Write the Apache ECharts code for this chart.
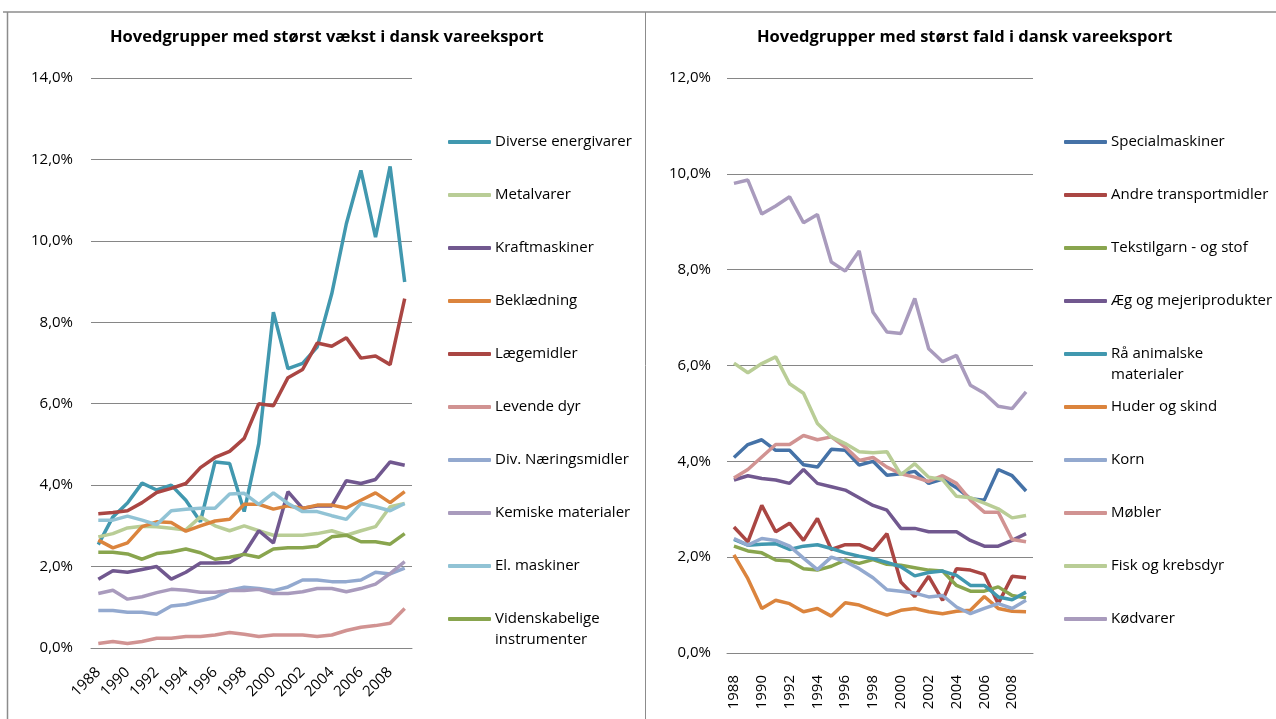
<!DOCTYPE html>
<html>
<head>
<meta charset="utf-8">
<script src="https://cdn.jsdelivr.net/npm/echarts@6/dist/echarts.min.js"></script>
<style>
  html, body { margin: 0; padding: 0; background: #fff; }
  #chart { width: 1276px; height: 719px; }
</style>
</head>
<body>
<div id="chart"></div>
<script>
// years on the x axis (both panels)
const years = ['1988', '1989', '1990', '1991', '1992', '1993', '1994', '1995', '1996', '1997', '1998',
  '1999', '2000', '2001', '2002', '2003', '2004', '2005', '2006', '2007', '2008', '2009'];

// left panel: share of export, percent
const diverseEnergivarer = [2.54, 3.22, 3.56, 4.05, 3.88, 4.00, 3.63, 3.10, 4.57, 4.53, 3.35, 5.02, 8.25, 6.86, 6.99, 7.39, 8.70, 10.42, 11.73, 10.09, 11.83, 8.99];
const metalvarer = [2.73, 2.81, 2.95, 2.99, 2.98, 2.94, 2.90, 3.22, 3.00, 2.88, 3.00, 2.88, 2.77, 2.77, 2.77, 2.81, 2.88, 2.77, 2.88, 2.98, 3.47, 3.55];
const kraftmaskiner = [1.69, 1.90, 1.86, 1.93, 2.00, 1.69, 1.86, 2.09, 2.09, 2.10, 2.32, 2.88, 2.58, 3.84, 3.43, 3.49, 3.49, 4.11, 4.04, 4.14, 4.57, 4.49];
const beklaedning = [2.65, 2.46, 2.58, 2.98, 3.10, 3.08, 2.87, 3.00, 3.12, 3.16, 3.53, 3.53, 3.41, 3.49, 3.43, 3.51, 3.51, 3.44, 3.63, 3.81, 3.57, 3.84];
const laegemidler = [3.30, 3.33, 3.37, 3.57, 3.82, 3.92, 4.04, 4.43, 4.68, 4.83, 5.15, 6.00, 5.95, 6.64, 6.84, 7.49, 7.41, 7.62, 7.12, 7.17, 6.96, 8.58];
const levendeDyr = [0.11, 0.16, 0.11, 0.16, 0.24, 0.24, 0.28, 0.28, 0.32, 0.38, 0.34, 0.28, 0.32, 0.32, 0.32, 0.28, 0.32, 0.43, 0.51, 0.55, 0.61, 0.97];
const divNaeringsmidler = [0.92, 0.92, 0.88, 0.88, 0.83, 1.03, 1.07, 1.16, 1.24, 1.42, 1.49, 1.46, 1.41, 1.50, 1.67, 1.67, 1.63, 1.63, 1.67, 1.86, 1.82, 1.96];
const kemiskeMaterialer = [1.34, 1.42, 1.20, 1.26, 1.36, 1.44, 1.42, 1.37, 1.37, 1.41, 1.41, 1.44, 1.34, 1.34, 1.38, 1.46, 1.46, 1.38, 1.46, 1.57, 1.83, 2.12];
const elMaskiner = [3.14, 3.14, 3.24, 3.14, 3.03, 3.37, 3.41, 3.43, 3.43, 3.78, 3.80, 3.53, 3.81, 3.55, 3.35, 3.35, 3.25, 3.16, 3.55, 3.47, 3.37, 3.55];
const videnskabeligeInstr = [2.35, 2.35, 2.31, 2.18, 2.32, 2.36, 2.43, 2.34, 2.18, 2.23, 2.30, 2.23, 2.43, 2.46, 2.46, 2.50, 2.73, 2.77, 2.61, 2.61, 2.55, 2.81];

// right panel: share of export, percent
const specialmaskiner = [4.08, 4.35, 4.45, 4.23, 4.23, 3.93, 3.88, 4.25, 4.23, 3.92, 4.00, 3.71, 3.74, 3.79, 3.54, 3.63, 3.45, 3.22, 3.19, 3.83, 3.70, 3.38];
const andreTransportmidler = [2.63, 2.32, 3.08, 2.53, 2.71, 2.35, 2.81, 2.16, 2.26, 2.26, 2.14, 2.49, 1.48, 1.18, 1.60, 1.10, 1.76, 1.73, 1.64, 1.03, 1.60, 1.57];
const tekstilgarn = [2.23, 2.13, 2.09, 1.94, 1.92, 1.76, 1.73, 1.81, 1.94, 1.87, 1.95, 1.85, 1.83, 1.78, 1.73, 1.71, 1.41, 1.29, 1.29, 1.38, 1.20, 1.15];
const aegMejeri = [3.61, 3.70, 3.64, 3.61, 3.54, 3.83, 3.54, 3.47, 3.40, 3.24, 3.08, 2.98, 2.60, 2.60, 2.53, 2.53, 2.53, 2.35, 2.23, 2.23, 2.35, 2.49];
const raaAnimalske = [2.37, 2.25, 2.27, 2.28, 2.16, 2.23, 2.26, 2.18, 2.09, 2.02, 1.97, 1.89, 1.80, 1.61, 1.68, 1.71, 1.62, 1.41, 1.41, 1.17, 1.11, 1.27];
const huderSkind = [2.05, 1.55, 0.93, 1.10, 1.03, 0.86, 0.93, 0.77, 1.05, 1.00, 0.89, 0.79, 0.89, 0.93, 0.86, 0.82, 0.87, 0.89, 1.18, 0.93, 0.87, 0.86];
const korn = [2.39, 2.25, 2.39, 2.35, 2.23, 1.98, 1.74, 2.00, 1.91, 1.76, 1.57, 1.32, 1.29, 1.25, 1.17, 1.20, 0.96, 0.82, 0.93, 1.03, 0.93, 1.10];
const moebler = [3.65, 3.83, 4.09, 4.35, 4.35, 4.54, 4.45, 4.51, 4.30, 4.02, 4.08, 3.88, 3.74, 3.67, 3.58, 3.70, 3.54, 3.19, 2.94, 2.94, 2.37, 2.32];
const fiskKrebsdyr = [6.05, 5.85, 6.04, 6.18, 5.62, 5.42, 4.79, 4.51, 4.37, 4.20, 4.18, 4.20, 3.72, 3.95, 3.67, 3.62, 3.27, 3.24, 3.13, 3.01, 2.82, 2.87];
const koedvarer = [9.80, 9.87, 9.16, 9.33, 9.52, 8.98, 9.15, 8.16, 7.97, 8.39, 7.11, 6.70, 6.67, 7.40, 6.35, 6.08, 6.21, 5.59, 5.42, 5.15, 5.10, 5.45];

const growth = [
  ['Diverse energivarer', diverseEnergivarer, '#4198AF'],
  ['Metalvarer', metalvarer, '#B9CD96'],
  ['Kraftmaskiner', kraftmaskiner, '#71588F'],
  ['Beklædning', beklaedning, '#DB843D'],
  ['Lægemidler', laegemidler, '#AA4643'],
  ['Levende dyr', levendeDyr, '#D19392'],
  ['Div. Næringsmidler', divNaeringsmidler, '#93A9CF'],
  ['Kemiske materialer', kemiskeMaterialer, '#A99BBD'],
  ['El. maskiner', elMaskiner, '#91C3D5'],
  ['Videnskabelige\ninstrumenter', videnskabeligeInstr, '#89A54E']
];
const decline = [
  ['Specialmaskiner', specialmaskiner, '#4572A7'],
  ['Andre transportmidler', andreTransportmidler, '#AA4643'],
  ['Tekstilgarn - og stof', tekstilgarn, '#89A54E'],
  ['Æg og mejeriprodukter', aegMejeri, '#71588F'],
  ['Rå animalske\nmaterialer', raaAnimalske, '#4198AF'],
  ['Huder og skind', huderSkind, '#DB843D'],
  ['Korn', korn, '#93A9CF'],
  ['Møbler', moebler, '#D19392'],
  ['Fisk og krebsdyr', fiskKrebsdyr, '#B9CD96'],
  ['Kødvarer', koedvarer, '#A99BBD']
];

const FONT = 'Open Sans';
const gridColor = '#868686';
const LH = 21;

function pct(v) {
  return v.toFixed(1).replace('.', ',') + '%';
}

function xAxis(gridIndex, rotate, margin) {
  return {
    type: 'category', gridIndex: gridIndex, data: years, boundaryGap: true,
    axisTick: { show: false },
    axisLine: { lineStyle: { color: gridColor, width: 1 } },
    axisLabel: { interval: 1, rotate: rotate, color: '#000', fontFamily: FONT, fontSize: 15, margin: margin }
  };
}

function yAxis(gridIndex, max, margin) {
  return {
    type: 'value', gridIndex: gridIndex, min: 0, max: max, interval: 2,
    axisLine: { show: false }, axisTick: { show: false },
    splitLine: { lineStyle: { color: gridColor, width: 1 } },
    axisLabel: { formatter: pct, color: '#000', fontFamily: FONT, fontSize: 15, margin: margin }
  };
}

const series = [];
const legends = [];
[growth, decline].forEach(function (group, g) {
  group.forEach(function (item, i) {
    series.push({
      name: item[0], type: 'line', xAxisIndex: g, yAxisIndex: g,
      data: item[1], symbol: 'none', smooth: false,
      lineStyle: { color: item[2], width: 3.5 },
      itemStyle: { color: item[2] },
      emphasis: { disabled: true }
    });
    // two-line names: an empty first line keeps the icon level with the first text line
    const twoLines = item[0].indexOf('\n') >= 0;
    const cy = 142 + 53 * i;
    legends.push({
      data: [item[0]],
      formatter: twoLines ? function (name) { return ' \n' + name; } : '{name}',
      orient: 'vertical', padding: 0,
      left: g === 0 ? 448 : 1064,
      top: twoLines ? cy - LH * 1.5 : cy - LH / 2,
      icon: 'roundRect', itemWidth: 43, itemHeight: 4, itemGap: 0,
      selectedMode: false,
      textStyle: { color: '#000', fontFamily: FONT, fontSize: 15, lineHeight: LH, padding: [0, 0, 0, -1] }
    });
  });
});

const chart = echarts.init(document.getElementById('chart'), null, { renderer: 'canvas' });
chart.setOption({
  animation: false,
  backgroundColor: '#fff',
  title: [
    { text: 'Hovedgrupper med størst vækst i dansk vareeksport', left: 110, top: 29, padding: 0,
      textStyle: { fontFamily: FONT, fontSize: 16.5, fontWeight: 'bold', color: '#000' } },
    { text: 'Hovedgrupper med størst fald i dansk vareeksport', left: 757, top: 29, padding: 0,
      textStyle: { fontFamily: FONT, fontSize: 16.5, fontWeight: 'bold', color: '#000' } }
  ],
  grid: [
    { left: 91, top: 78, width: 321, height: 570 },
    { left: 727, top: 78, width: 306, height: 575 }
  ],
  xAxis: [xAxis(0, 45, 22), xAxis(1, 90, 22)],
  yAxis: [yAxis(0, 14, 18), yAxis(1, 12, 16)],
  legend: legends,
  series: series,
  graphic: [
    { type: 'line', shape: { x1: 3, y1: 12, x2: 1276, y2: 12 }, style: { stroke: '#8c8c8c', lineWidth: 1.5 } },
    { type: 'line', shape: { x1: 7.5, y1: 12, x2: 7.5, y2: 719 }, style: { stroke: '#8c8c8c', lineWidth: 1.5 } },
    { type: 'line', shape: { x1: 645.5, y1: 12, x2: 645.5, y2: 719 }, style: { stroke: '#8c8c8c', lineWidth: 1 } }
  ]
});
</script>
</body>
</html>
